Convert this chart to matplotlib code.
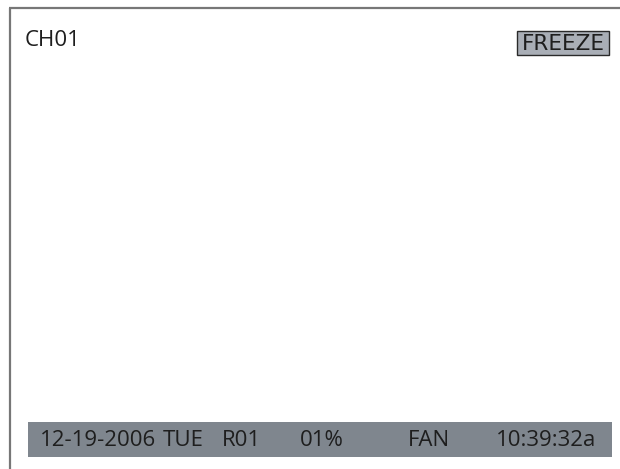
import matplotlib
matplotlib.use("Agg")
import matplotlib.pyplot as plt
from matplotlib.patches import Rectangle

channel_label = "CH01"
status_label = "FREEZE"
status_fields = ["12-19-2006", "TUE", "R01", "01%", "FAN", "10:39:32a"]
status_x = [40, 163, 222, 300, 408, 496]

W, H = 620, 469
fig = plt.figure(figsize=(W / 100, H / 100), dpi=100)
ax = fig.add_axes([0, 0, 1, 1])
ax.set_xlim(0, W)
ax.set_ylim(H, 0)
ax.axis("off")

font = ["Open Sans", "DejaVu Sans"]

# frame (top and left edges)
ax.plot([9, W], [8.5, 8.5], color="#777777", lw=1.6, solid_capstyle="butt")
ax.plot([9.5, 9.5], [8, H], color="#777777", lw=1.6, solid_capstyle="butt")

# channel label
ax.text(25, 40, channel_label, fontsize=16, family=font, color="#1e1e1e",
        va="center", ha="left")

# FREEZE box
ax.add_patch(Rectangle((517, 31.5), 92, 23.5, facecolor="#a9aeb6",
                       edgecolor="#2a2a2a", lw=1.0))
ax.text(563, 43.5, status_label, fontsize=15.5, family=["DejaVu Sans"],
        color="#1e1e1e", va="center", ha="center")

# status bar
ax.add_patch(Rectangle((28, 422), 584, 35, facecolor="#7f868e", edgecolor="none"))
for label, x in zip(status_fields, status_x):
    ax.text(x, 440, label, fontsize=16, family=font, color="#1e1e1e",
            va="center", ha="left")

fig.savefig("out.png", dpi=100)
